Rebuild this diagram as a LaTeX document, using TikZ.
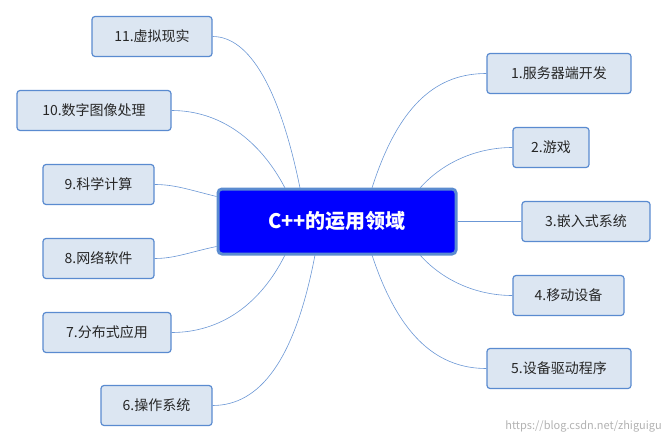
\documentclass[tikz,border=0pt]{standalone}
\usepackage{fontspec}
\setmainfont{Noto Sans CJK SC}
\begin{document}
\begin{tikzpicture}[x=1pt,y=-1pt,
  leaf/.style={draw=lb,fill=lf,rounded corners=3pt,line width=1.2pt,minimum height=40pt,inner sep=0pt,font=\fontsize{14}{16}\selectfont,text=black!85},
  conn/.style={draw=lb!90,line width=0.6pt}]
\definecolor{lb}{HTML}{5A8BD0}
\definecolor{lf}{HTML}{DCE6F2}
\useasboundingbox (0,0) rectangle (667,444);
\node[draw=lb,fill=blue,line width=3pt,rounded corners=4pt,minimum width=238pt,minimum height=65pt,text=white,font=\fontsize{20}{24}\selectfont\bfseries] (c) at (337,221.5) {C++的运用领域};
\node[leaf,minimum width=144pt] (n1) at (559,73.5) {1.服务器端开发};
\node[leaf,minimum width=76pt] (n2) at (551,147.5) {2.游戏};
\node[leaf,minimum width=128pt] (n3) at (586,221.5) {3.嵌入式系统};
\node[leaf,minimum width=111pt] (n4) at (568.5,295.5) {4.移动设备};
\node[leaf,minimum width=144pt] (n5) at (559,368.5) {5.设备驱动程序};
\node[leaf,minimum width=120pt] (n11) at (152,36.5) {11.虚拟现实};
\node[leaf,minimum width=154pt] (n10) at (94,110.5) {10.数字图像处理};
\node[leaf,minimum width=111pt] (n9) at (98.5,184.5) {9.科学计算};
\node[leaf,minimum width=111pt] (n8) at (98.5,258.5) {8.网络软件};
\node[leaf,minimum width=128pt] (n7) at (107,332.5) {7.分布式应用};
\node[leaf,minimum width=111pt] (n6) at (156.5,405.5) {6.操作系统};
\coordinate (t1) at (372,188); \coordinate (t2) at (420,188);
\coordinate (b4) at (420,255); \coordinate (b5) at (372,255);
\coordinate (t11) at (300,188); \coordinate (t10) at (285,188);
\coordinate (b7) at (285,255); \coordinate (b6) at (315,255);
\draw[conn] (t1) .. controls (400,100) and (440,73.5) .. (n1.west);
\draw[conn] (t2) .. controls (445,160) and (480,147.5) .. (n2.west);
\draw[conn] (c.east) -- (n3.west);
\draw[conn] (b4) .. controls (445,283) and (480,295.5) .. (n4.west);
\draw[conn] (b5) .. controls (400,340) and (440,368.5) .. (n5.west);
\draw[conn] (t11) .. controls (280,90) and (250,36.5) .. (n11.east);
\draw[conn] (t10) .. controls (260,140) and (220,110.5) .. (n10.east);
\draw[conn] (c.west) ++(0,-25) .. controls (190,190) and (175,184.5) .. (n9.east);
\draw[conn] (c.west) ++(0,25) .. controls (190,252) and (175,258.5) .. (n8.east);
\draw[conn] (b7) .. controls (260,305) and (220,332.5) .. (n7.east);
\draw[conn] (b6) .. controls (295,360) and (260,405.5) .. (n6.east);
\node[text=black!30,font=\fontsize{11}{12}\selectfont,anchor=east,inner sep=0pt] (wm) at (662,426) {https://blog.csdn.net/zhiguigu};
\end{tikzpicture}
\end{document}
